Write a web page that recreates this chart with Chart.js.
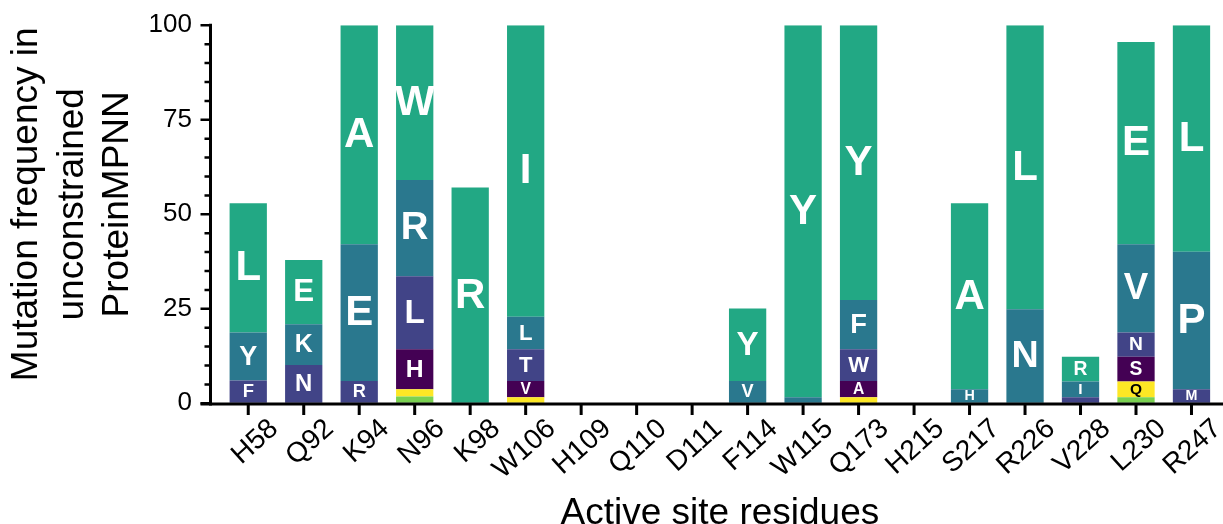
<!DOCTYPE html>
<html>
<head>
<meta charset="utf-8">
<script src="https://cdn.jsdelivr.net/npm/chart.js@4.4.1/dist/chart.umd.min.js"></script>
<style>
html,body{margin:0;padding:0;background:#fff;}
#wrap{width:1223px;height:524px;position:relative;}
</style>
</head>
<body>
<div id="wrap"><canvas id="c"></canvas></div>
<script>
// ---- data ----
const categories = ['H58','Q92','K94','N96','K98','W106','H109','Q110','D111','F114','W115','Q173','H215','S217','R226','V228','L230','R247'];

// stacked segments, bottom (rank 6) to top (rank 1 = most frequent)
const rank6Values = [0,0,0,1.8,0,0,0,0,0,0,0,0,0,0,0,0,1.6,0];
const rank5Values = [0,0,0,1.9,0,1.6,0,0,0,0,0,1.6,0,0,0,0,4.2,0];
const rank4Values = [0,0,0,10.6,0,4.3,0,0,0,0,0,4.3,0,0,0,0,6.5,0];
const rank3Values = [6.0,10.1,5.9,19.3,0,8.4,0,0,0,0,0,8.4,0,0,0,1.6,6.4,3.7];
const rank2Values = [12.7,10.8,36.2,25.5,0,8.6,0,0,0,5.9,1.6,13.0,0,3.7,24.9,4.2,23.4,36.4];
const rank1Values = [34.2,17.0,57.9,40.9,57.1,77.1,0,0,0,19.2,98.4,72.7,0,49.2,75.1,6.5,53.5,59.9];

const rank6Letters = ['','','','','','','','','','','','','','','','','',''];
const rank5Letters = ['','','','','','','','','','','','','','','','','Q',''];
const rank4Letters = ['','','','H','','V','','','','','','A','','','','','S',''];
const rank3Letters = ['F','N','R','L','','T','','','','','','W','','','','','N','M'];
const rank2Letters = ['Y','K','E','R','','L','','','','V','','F','','H','N','I','V','P'];
const rank1Letters = ['L','E','A','W','R','I','','','','Y','Y','Y','','A','L','R','E','L'];

const yMajorTicks = [0,25,50,75,100];

const yTitle = ['Mutation frequency in','unconstrained','ProteinMPNN'];
const xTitle = 'Active site residues';

// ---- style ----
const FONT = "'Liberation Sans', Arial, Helvetica, sans-serif";
const COLORS = ['#7ad151','#fde725','#440154','#414487','#2a788e','#22a884'];
const TEXT_COLORS = ['#000','#000','#fff','#fff','#fff','#fff'];

const seriesValues = [rank6Values,rank5Values,rank4Values,rank3Values,rank2Values,rank1Values];
const seriesLetters = [rank6Letters,rank5Letters,rank4Letters,rank3Letters,rank2Letters,rank1Letters];

const datasets = seriesValues.map((vals, i) => ({
  label: 'rank' + (6 - i),
  data: vals,
  backgroundColor: COLORS[i],
  borderWidth: 0,
  barPercentage: 0.672,
  categoryPercentage: 1.0,
  letters: seriesLetters[i],
  textColor: TEXT_COLORS[i]
}));

const AXIS_GAP = 10;

const axesPlugin = {
  id: 'customAxes',
  afterDatasetsDraw(chart) {
    const {ctx, chartArea} = chart;
    const x = chart.scales.x, y = chart.scales.y;
    const axisX = chartArea.left - AXIS_GAP;
    const zeroY = y.getPixelForValue(0) + 0.7;
    const topY = y.getPixelForValue(100);
    ctx.save();
    ctx.strokeStyle = '#000';
    ctx.lineWidth = 3;
    ctx.lineCap = 'butt';
    ctx.beginPath();
    ctx.moveTo(axisX, topY - 1.5);
    ctx.lineTo(axisX, zeroY + 1.5);
    ctx.stroke();
    ctx.beginPath();
    ctx.moveTo(axisX - 10, zeroY);
    ctx.lineTo(chart.width, zeroY);
    ctx.stroke();
    ctx.lineWidth = 2.5;
    ctx.beginPath();
    for (let v = 0; v <= 100; v += 5) {
      const py = y.getPixelForValue(v);
      const len = yMajorTicks.includes(v) ? 10 : 6;
      ctx.moveTo(axisX, py);
      ctx.lineTo(axisX - len, py);
    }
    ctx.stroke();
    ctx.lineWidth = 3;
    ctx.beginPath();
    for (let i = 0; i < categories.length; i++) {
      const px = x.getPixelForTick(i);
      ctx.moveTo(px, zeroY);
      ctx.lineTo(px, zeroY + 11);
    }
    ctx.stroke();

    // y-axis title (three lines, rotated)
    const cy = (chartArea.top + chartArea.bottom) / 2 - 10;
    ctx.fillStyle = '#000';
    ctx.font = '37px ' + FONT;
    ctx.textAlign = 'center';
    ctx.textBaseline = 'middle';
    yTitle.forEach((line, k) => {
      ctx.save();
      ctx.translate(27 + k * 45.5, cy);
      ctx.rotate(-Math.PI / 2);
      ctx.fillText(line, 0, 0);
      ctx.restore();
    });
    ctx.restore();
  }
};

const lettersPlugin = {
  id: 'segLetters',
  afterDatasetsDraw(chart) {
    const {ctx} = chart;
    ctx.save();
    ctx.textAlign = 'center';
    ctx.textBaseline = 'middle';
    chart.data.datasets.forEach((ds, di) => {
      const meta = chart.getDatasetMeta(di);
      meta.data.forEach((el, j) => {
        const letter = ds.letters[j];
        if (!letter) return;
        const h = Math.abs(el.base - el.y);
        const size = Math.max(11, Math.min(42, 3.9 * Math.sqrt(h)));
        ctx.font = 'bold ' + size.toFixed(1) + 'px ' + FONT;
        ctx.fillStyle = ds.textColor;
        ctx.fillText(letter, el.x, (el.y + el.base) / 2 + size * 0.02);
      });
    });
    ctx.restore();
  }
};

new Chart(document.getElementById('c'), {
  type: 'bar',
  data: { labels: categories, datasets },
  options: {
    responsive: true,
    maintainAspectRatio: false,
    animation: false,
    layout: { padding: { top: 25.3, right: 1, bottom: 0, left: 0 } },
    plugins: { legend: { display: false }, tooltip: { enabled: false } },
    scales: {
      x: {
        stacked: true,
        offset: true,
        grid: { display: false, drawTicks: false },
        border: { display: false },
        ticks: {
          autoSkip: false,
          minRotation: 42,
          maxRotation: 42,
          padding: 9,
          labelOffset: 26,
          color: '#000',
          font: { family: FONT, size: 28 }
        },
        title: {
          display: true,
          text: xTitle,
          color: '#000',
          font: { family: FONT, size: 37, lineHeight: 0.55 },
          padding: { top: 0, bottom: 0 }
        },
        afterFit(scale) { scale.height = 524 - 403.3; }
      },
      y: {
        stacked: true,
        min: 0,
        max: 100,
        grid: { display: true, drawOnChartArea: false, drawTicks: true, tickLength: 25, color: 'rgba(0,0,0,0)' },
        border: { display: false },
        afterBuildTicks(scale) { scale.ticks = yMajorTicks.map(v => ({ value: v })); },
        ticks: {
          padding: 3.5,
          color: '#000',
          font: { family: FONT, size: 26 }
        },
        title: { display: false },
        afterFit(scale) { scale.width = 220.5; }
      }
    }
  },
  plugins: [axesPlugin, lettersPlugin]
});
</script>
</body>
</html>
